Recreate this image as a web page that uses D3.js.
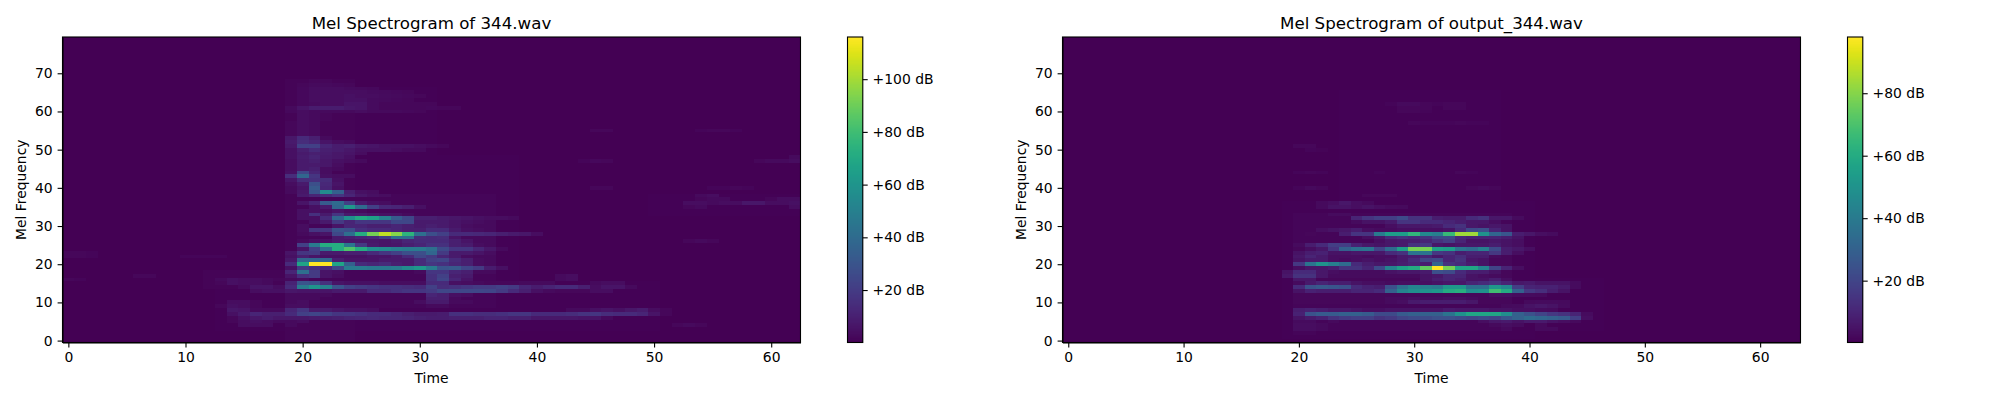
<!DOCTYPE html>
<html>
<head>
<meta charset="utf-8">
<script src="https://cdnjs.cloudflare.com/ajax/libs/d3/7.8.5/d3.min.js"></script>
<style>
html,body{margin:0;padding:0;background:#fff}
svg{display:block}
text{font-family:"DejaVu Sans",sans-serif;fill:#000}
</style>
</head>
<body>
<svg id="c" width="2000" height="400"></svg>
<script>
// Titles and dimensions
const titleA = "Mel Spectrogram of 344.wav";
const titleB = "Mel Spectrogram of output_344.wav";
const melBins = 80;
const framesA = 63;
const framesB = 64;
const dbMinA = 0.1, dbMaxA = 116;
const dbMinB = 0.2, dbMaxB = 98;
const floorDb = 0.3;
const xTicks = [0,10,20,30,40,50,60];
const yTicks = [0,10,20,30,40,50,60,70];
const dbTicksA = [20,40,60,80,100];
const dbTicksB = [20,40,60,80];

// Faint background energy read as blocks: [low bin, high bin, first frame, last frame, dB]
const bedA = [
[0,68,19,24,1.2],[9,38,20,36,1.5],[9,48,19,38,0.8],[18,30,30,36,3],[3,15,13,50,1],[14,18,12,20,1.2],[47,66,24,31,0.9],[33,38,50,62,0.7]
];
const bedB = [
[3,33,20,38,1.5],[1,36,19,40,0.9],[36,65,24,37,0.6],[3,16,40,46,0.9],[10,24,20,38,2]
];

// Runs of dB values: [mel bin, first frame, value, value, ...]
const runsA = [
[4,15,4,4,4,0,3],[4,52,2,3,2],
[5,14,2,4,5,4,3,3,4],
[6,14,2,5,7,9,7,7,7,8,9,10,11,12,13,12,12,11,10,9,9,10,10,10,11,11,10,10,7,7,7,7,6,6,3],
[7,14,5,8,12,10,10,14,22,24,22,18,18,16,14,14,12,10,8,8,9,16,16,15,15,16,18,18,14,14,14,15,17,18,15,14,14,12,6,2],
[8,14,7,6,3,3,3,12,18,8,8,6,5,5,4],[8,43,3,3,5,6,5,7,9,4,2],
[9,13,2,5,4,2,0,0,4,4],[9,31,3,3],
[10,14,4,4,2,0,0,3,4],[10,30,4,8,8,3,3],
[11,19,3,3,3],[11,31,10,10,3],
[12,19,3,3,3,3],[12,31,12,10,5,4],
[13,16,4,5,5,7,6,6,6,8,8,8,14,14,16,18,18,20,25,25,25,25,24,20,14,10,5,3,2,2,2,4,4],
[14,15,3,6,6,4,14,48,60,50,30,22,20,18,16,16,15,14,22,15,16,18,20,20,22,20,12,9,11,14,14,10,4,6,6,3],
[15,13,2,5,4,4,3,0,11,30,28,16,6,5,5,5,4,4,4,4,14,14,5,4,3,2,2,2,3,3,3,0,0,0,3,4,4],
[16,0,2,1.5],[16,13,3,5,4,4,3,2,3,4],[16,31,16,24,12,6],[16,42,3,4],
[17,6,2,2],[17,19,6,16,20,6,4],[17,31,16,22,10,8],[17,42,3,4],
[18,19,12,42,20,6,5],[18,31,18,18,12,10],
[19,19,5,20,16,14,25,48,48,46,46,48,56,62,48,30,32,24,20,9,5],
[20,19,14,68,116,116,68,35,14,12,14,10,8,14,18,16,12,10,4],
[21,19,7,38,38,38,10,6,6,6,8,8,8,14,22,24,14,10,4],
[22,0,2,2,1.5],[22,10,1.5,1.5,1.5,1.5],[22,19,5,10,6,5,5,5,5,6,6,8,14,25,20,12,8,4],
[23,0,2,2,1.5],[23,19,6,18,20,8,8,10,10,14,18,22,28,28,38,20,8,8,6,4],
[24,20,6,22,42,72,84,72,58,55,50,48,48,42,26,18,18,12,7,3],
[25,20,22,48,72,72,46,20,8,6,7,10,12,16,16,10,8,4],
[26,20,3,5,5,8,7,7,7,6,8,12,14,14,14,10,6],[26,53,2,3,2],
[27,23,8,10,12,14,22,42,42,15,14,15,6],
[28,20,3,5,6,25,42,72,92,105,95,75,42,28,22,14,14,13,12,10,8,7,4],
[29,20,4,18,18,30,28,16,14,14,12,10,10,14,14,8,5,4],
[30,20,4,0,0,6,12,12,10,10,12,10,8,10,8,6,4,3],
[31,21,5,8,20,12,18,18,18,25,25,8,8,8,6,5,4,3],
[32,20,5,5,14,38,58,70,65,50,33,25,10,10,8,7,6,5,4,4,3],
[33,20,5,16,8,18,8,8,6,5,5,3],
[34,20,5,5,4,6,4,3],
[35,21,5,8,38,62,40,22,13,12,10,5],[35,53,2,3],[35,62,4],
[36,20,6,12,33,40,22,8,5,4],[36,53,4,4,3,4,4,7,7,4,4,5],
[37,54,2,3,3],[37,60,2,4,4],
[38,20,8,12,14,18,12,7,5,4],[38,54,3,4],
[39,19,3,7,30,55,35,10,5,4],
[40,19,3,6,32,12,5],[40,45,2,2],[40,55,1.5,1.5,2,1.5],
[41,19,4,8,28,13,6],
[42,19,6,15,16,15,5],
[43,19,15,38,18,5,4,4],
[44,19,5,25,12,4],
[45,19,4,8,10,4,3],
[46,19,4,8,8,7,4],
[47,19,4,8,10,7,5,4,3],[47,44,1.5,2.5,2],[47,59,2,3,3,4],
[48,19,5,9,11,8,7,5],[48,62,3],
[49,19,5,8,10,9,7,6,4],
[50,19,5,10,14,10,9,7,5,5,5,4,3,3],
[51,19,7,22,22,12,9,10,7,6,5,5,5,4,3,2],
[52,19,8,15,12,6,4,3],
[53,19,7,14,10,3],
[54,19,2,4,3],
[55,19,2,4,3],[55,45,2,2],[55,54,1.5,2,2,1.5],
[56,19,2,4,3],
[57,19,2,4,3],
[58,20,4,3,2],
[59,20,4,3,2],
[60,19,2.5,4,3,3,3,3,4,3,3,3,2.5,2],
[61,19,3,6,9,9,9,7,6,3.5,2,2,2,2,2.5,2,2],
[62,20,2.5,3.5,4,4,6,6,3.5,2,2,2,2,2],
[63,20,2.5,4,4,4,5,5,3.5,3,2.5,2],
[64,20,2.5,4,4,4,5,4,4,3.5,3,2.5,2],
[65,20,2.5,4,4,4,4,4,3.5,3,2.5,2],
[66,20,2.5,4,4,4,3.5,3,2.5],
[67,20,2,3,3,2.5,2],
[68,21,2,2]
];

const runsB = [
[2,20,1.5,1.5],
[3,20,3.5,3.5,2.5],[3,38,2.5],[3,41,2.5,2.5],
[4,20,3.5,3.5,2.5],[4,37,2.5,4,3],[4,41,2.5],
[5,20,3,3,0,2.5],[5,36,4,6,7,5,7,7,5,4,2.5],
[6,20,5,7,9,14,17,18,18,14,16,20,22,22,24,24,22,20,22,20,26,30,34,32,30,28,18,4],
[7,20,9,25,28,28,30,30,28,22,22,28,30,30,30,38,50,58,58,58,48,30,25,20,16,14,10,3],
[8,20,8,9,8,6,6,5,4,4,5,5,5,5,5,7,6,6,6,5,5,4,4,3,2.5],
[9,38,2.5,3,5,6,5,3],
[10,28,3,4,7,8,8,8,8,6],[10,40,2.5,3,3,2.5],
[11,27,2,3,3,4,3,3,4,4,3],
[12,20,2,2],[12,37,4,4,3,3,2.5],
[13,20,5,9,8,8,8,10,10,12,30,44,48,50,52,60,62,48,50,68,60,30,16,13,8,5],
[14,20,12,25,27,26,24,12,9,8,24,36,44,42,40,52,52,36,36,52,46,18,10,9,9,7,3],
[15,20,3,7,10,8,8,5,4,4,3,4,4,4,5,6,6,10,12,14,10,6,7,5,5,5,3],
[16,20,6,6],[16,31,5,8,10,8,5,5,8,4],
[17,19,6,14,14,6,3,3,3,3,3,3,3,3,5,6,10,10,5,4,3],
[18,19,5,12,12,6,4,3,3,3,3,5,6,6,7,24,22,12,8,8,5],
[19,20,4,6,6,8,14,14,10,22,44,56,60,74,98,78,58,58,44,20,10,4],
[20,20,16,38,50,42,34,12,8,6,6,8,10,8,32,14,12,8,5],
[21,20,5,7,7,4,3,4,5,4,5,7,12,20,22,10,14,6,5],
[22,20,6,10,7,4,4,4,3,4,4,7,8,10,6,10,13,8,8,3],
[23,20,5,8,9,5,5,6,6,6,12,14,38,38,16,14,8,10,10,16,8,4],
[24,21,4,6,15,30,36,38,20,34,55,78,78,56,54,38,34,42,22,8,6,4],
[25,20,3,8,12,18,18,9,6,5,6,7,14,16,6,5,6,6,6,8,5,4],
[26,27,4,6,7,8,10,14,18,10,5,5,6,5,4],
[27,26,4,6,12,14,12,14,22,22,12,10,10,10,8,5],
[28,21,2,0,0,8,15,15,40,54,54,64,46,42,66,84,84,50,32,26,8,6,4,3],
[29,22,4,5,6,8,4,3,3,4,4,4,4,5,12,22,24,10,5],
[30,28,4,6,6,6,7,12,14,6,5,6,5],
[31,25,3,5,5,7,15,15,12,12,10,8,6,6,4],
[32,25,10,15,18,18,22,14,14,8,7,7,12,14,6,6,3],
[33,23,3,3],
[35,22,2.5,5,5,4,5,4,3,2.5],
[36,22,2.5,4,6,4,2.5],
[38,26,2,2,2],
[40,20,1.5,2.5,2],[40,35,2,2.5,2],
[44,20,1.5,2,1.5],[44,27,1.5],[44,34,2,1.5],
[50,21,1.5,1.2],
[51,20,2,2],
[57,30,2,1.5,1.5,1.5,2,1.5,1.5],
[60,29,2,2,1.5],
[61,29,2,2,2,0,2,2],
[62,28,1.5,2.5,2.5,2,1.5,2,2]
];

// Expand the blocks and runs into a full bin × frame matrix
function toMatrix(runs, bed, frames) {
  const m = d3.range(melBins).map(() => d3.range(frames).map(() => floorDb));
  bed.forEach(([lo, hi, f0, f1, db]) => {
    for (let b = lo; b <= hi; b++) for (let f = f0; f <= f1; f++) m[b][f] = Math.max(m[b][f], db);
  });
  runs.forEach(([bin, first, ...vals]) => vals.forEach((v, i) => {
    if (v > 0) m[bin][first + i] = v;
  }));
  return m;
}

const svg = d3.select("#c");
const plotW = 738, plotTop = 37, plotBottom = 342.5;

function panel(x0, title, runs, bed, frames, dbMin, dbMax, dbTicks) {
  const g = svg.append("g").attr("transform", `translate(${x0},0)`);
  const x = d3.scaleLinear().domain([-0.5, frames - 0.5]).range([0, plotW]);
  const y = d3.scaleLinear().domain([-0.5, melBins - 0.5]).range([plotBottom, plotTop]);
  const color = d3.scaleSequential(d3.interpolateViridis).domain([dbMin, dbMax]).clamp(true);
  const matrix = toMatrix(runs, bed, frames);

  const cells = matrix.flatMap((row, b) => row.map((v, f) => ({b, f, v})));
  g.append("g").attr("shape-rendering", "crispEdges").selectAll("rect").data(cells).join("rect")
    .attr("x", d => x(d.f - 0.5))
    .attr("width", d => x(d.f + 0.5) - x(d.f - 0.5))
    .attr("y", d => y(d.b + 0.5))
    .attr("height", d => y(d.b - 0.5) - y(d.b + 0.5))
    .attr("fill", d => color(d.v));

  const styleAxis = a => {
    a.selectAll("path,line").attr("stroke", "#000").attr("stroke-width", 1.1);
    a.selectAll("text").attr("font-size", 13.9).attr("font-family", '"DejaVu Sans"');
  };
  g.append("g").attr("transform", `translate(0,${plotBottom})`)
    .call(d3.axisBottom(x).tickValues(xTicks).tickFormat(d3.format("d")).tickSize(4.9).tickPadding(4.9).tickSizeOuter(0))
    .call(styleAxis);
  g.append("g")
    .call(d3.axisLeft(y).tickValues(yTicks).tickFormat(d3.format("d")).tickSize(4.9).tickPadding(4.9).tickSizeOuter(0))
    .call(styleAxis);
  g.append("rect").attr("x", 0).attr("y", plotTop).attr("width", plotW).attr("height", plotBottom - plotTop)
    .attr("fill", "none").attr("stroke", "#000").attr("stroke-width", 1.1);

  g.append("text").attr("x", plotW / 2).attr("y", 29).attr("text-anchor", "middle").attr("font-size", 16.67).text(title);
  g.append("text").attr("x", plotW / 2).attr("y", 383).attr("text-anchor", "middle").attr("font-size", 13.9).text("Time");
  g.append("text").attr("transform", `translate(-37,${(plotTop + plotBottom) / 2}) rotate(-90)`)
    .attr("text-anchor", "middle").attr("font-size", 13.9).text("Mel Frequency");

  // Colour bar
  const cbX = 785, cbW = 15.3;
  const cy = d3.scaleLinear().domain([dbMin, dbMax]).range([plotBottom, plotTop]);
  const steps = d3.range(256).map(i => dbMin + (dbMax - dbMin) * i / 255);
  const stepH = (plotBottom - plotTop) / 256 + 0.6;
  g.append("g").attr("shape-rendering", "crispEdges").selectAll("rect").data(steps).join("rect")
    .attr("x", cbX).attr("width", cbW)
    .attr("y", (d, i) => plotBottom - (i + 1) * (plotBottom - plotTop) / 256)
    .attr("height", stepH)
    .attr("fill", d => color(d));
  g.append("g").attr("transform", `translate(${cbX + cbW},0)`)
    .call(d3.axisRight(cy).tickValues(dbTicks).tickFormat(d => `+${d} dB`).tickSize(4.9).tickPadding(4.9).tickSizeOuter(0))
    .call(styleAxis)
    .call(a => a.select(".domain").remove());
  g.append("rect").attr("x", cbX).attr("y", plotTop).attr("width", cbW).attr("height", plotBottom - plotTop)
    .attr("fill", "none").attr("stroke", "#000").attr("stroke-width", 1.1);
}

panel(62.5, titleA, runsA, bedA, framesA, dbMinA, dbMaxA, dbTicksA);
panel(1062.5, titleB, runsB, bedB, framesB, dbMinB, dbMaxB, dbTicksB);
</script>
</body>
</html>
